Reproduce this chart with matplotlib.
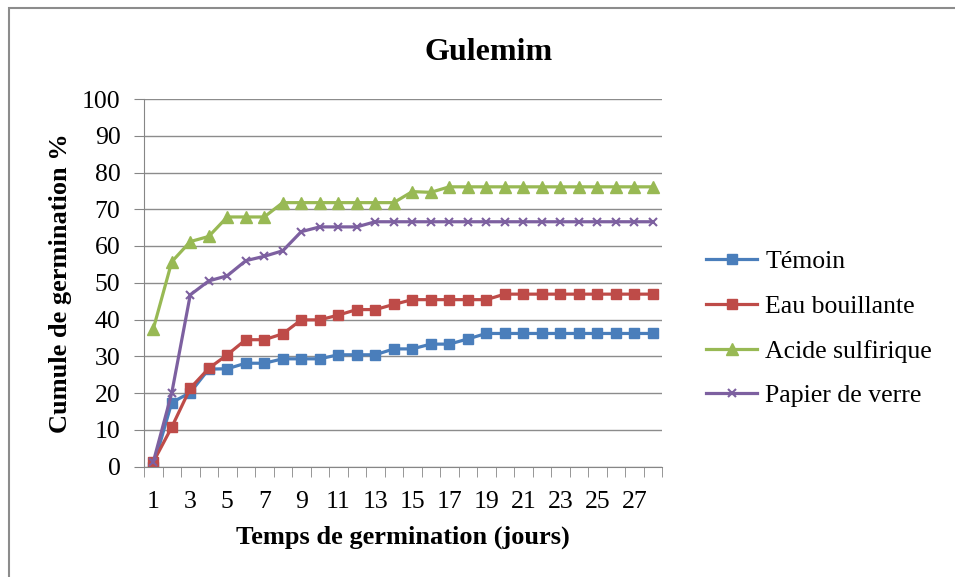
import matplotlib.pyplot as plt
from matplotlib.patches import Rectangle
from matplotlib.ticker import FixedLocator

plt.rcParams['font.family'] = ['Liberation Serif', 'DejaVu Serif']

# cumulative germination (%) per day
jours = list(range(1, 29))
temoin = [0, 17.4, 20.1, 26.5, 26.6, 28.1, 28.1, 29.3, 29.3, 29.3, 30.4, 30.4, 30.4, 32.0,
          32.0, 33.3, 33.3, 34.7, 36.2, 36.2, 36.2, 36.2, 36.2, 36.2, 36.2, 36.2, 36.2, 36.2]
eau_bouillante = [1.2, 10.7, 21.3, 26.7, 30.4, 34.5, 34.5, 36.1, 39.9, 39.9, 41.2, 42.7, 42.7, 44.1,
                  45.4, 45.4, 45.4, 45.4, 45.4, 46.9, 46.9, 46.9, 46.9, 46.9, 46.9, 46.9, 46.9, 46.9]
acide_sulfurique = [37.4, 55.7, 61.2, 62.6, 67.9, 67.9, 67.9, 71.8, 71.8, 71.8, 71.8, 71.8, 71.8, 71.8,
                    74.8, 74.6, 76.1, 76.1, 76.1, 76.1, 76.1, 76.1, 76.1, 76.1, 76.1, 76.1, 76.1, 76.1]
papier_verre = [1.2, 20.0, 46.7, 50.5, 51.9, 56.0, 57.2, 58.7, 63.9, 65.2, 65.2, 65.2, 66.6, 66.6,
                66.6, 66.6, 66.6, 66.6, 66.6, 66.6, 66.6, 66.6, 66.6, 66.6, 66.6, 66.6, 66.6, 66.6]

fig = plt.figure(figsize=(9.55, 5.77), dpi=100)
# outer chart frame
fig.patches.append(Rectangle((9 / 955, -0.1), 1.2, 1.1 - 8 / 577, transform=fig.transFigure,
                             fill=False, edgecolor='#8c8c8c', linewidth=1.5))

ax = fig.add_axes([144 / 955, 1 - 466.5 / 577, 518 / 955, 367.5 / 577])

ax.plot(jours, temoin, color='#4a7ebb', lw=2.3, marker='s', ms=7, label='Témoin')
ax.plot(jours, eau_bouillante, color='#be4b48', lw=2.3, marker='s', ms=7, label='Eau bouillante')
ax.plot(jours, acide_sulfurique, color='#98b954', lw=2.3, marker='^', ms=8, label='Acide sulfirique')
ax.plot(jours, papier_verre, color='#7d60a0', lw=2.3, marker='x', ms=6, mew=1.5, label='Papier de verre')

ax.set_xlim(0.5, 28.5)
ax.set_ylim(0, 100)
ax.set_yticks(range(0, 101, 10))
ax.set_xticks(range(1, 29, 2))
ax.xaxis.set_minor_locator(FixedLocator([i + 0.5 for i in range(0, 29)]))
ax.tick_params(axis='x', which='major', length=0, pad=18, labelsize=18.5)
ax.tick_params(axis='x', which='minor', length=7, color='#868686')
ax.tick_params(axis='y', length=7, color='#868686', labelsize=18.5, pad=10)

ax.grid(axis='y', color='#8c8c8c', lw=1)
ax.set_axisbelow(True)
for s in ['top', 'right']:
    ax.spines[s].set_visible(False)
for s in ['left', 'bottom']:
    ax.spines[s].set_color('#868686')

ax.set_title('Gulemim', fontsize=23, fontweight='bold', pad=28, x=0.666)
ax.set_xlabel('Temps de germination (jours)', fontsize=19, fontweight='bold', labelpad=9)
ax.set_ylabel('Cumule de germination %', fontsize=19, fontweight='bold', labelpad=7)

ax.legend(loc='upper left', bbox_to_anchor=(706 / 955, 1 - 250 / 577),
          bbox_transform=fig.transFigure, frameon=False, fontsize=18.5,
          handlelength=2.0, labelspacing=0.85, handletextpad=0.3,
          borderpad=0, borderaxespad=0)

fig.savefig('out.png', dpi=100)
